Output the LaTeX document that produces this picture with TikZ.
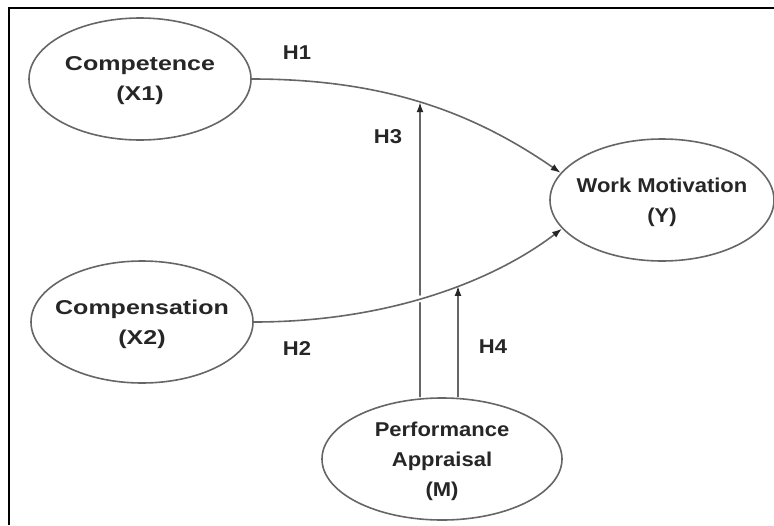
\documentclass[tikz,border=0pt]{standalone}
\usepackage{fontspec}
\setmainfont{Liberation Sans}[FakeStretch=1.1]
\usetikzlibrary{arrows.meta,intersections,shapes.geometric}

\tikzset{
    construct/.style={draw=black!60,line width=1.6pt,ellipse,inner xsep=-12pt,inner ysep=-5pt,
        minimum width=222pt,minimum height=122pt,align=center,text depth=-12pt,
        text=black!85,font=\fontsize{20}{30}\selectfont\bfseries},
    wide text/.style={font=\fontsize{20}{30}\selectfont\bfseries\addfontfeatures{FakeStretch=1.25}},
    link/.style={draw=black!60,line width=1.6pt},
    path arrow/.style={link,-{Latex[length=10pt,width=7pt,black!85]}},
    hyp/.style={text=black!85,font=\fontsize{20}{24}\selectfont\bfseries}
}

\begin{document}
\begin{tikzpicture}[x=1pt,y=-1pt]
    \useasboundingbox (0,0) rectangle (774,525);
    \draw [line width=1.5pt] (9,525) -- (9,8) -- (774,8);
    % constructs
    \node [construct,wide text] (X1) at (140,79) {Competence\\(X1)};
    \node [construct,wide text] (X2) at (142,322) {Compensation\\(X2)};
    \node [construct,minimum width=224pt] (Y) at (662,200) {Work Motivation\\(Y)};
    \node [construct,minimum width=240pt] (M) at (442,459) {Performance\\Appraisal\\(M)};
    % direct paths
    \path [name path=X1--Y] (X1.east) .. controls (380,79) and (470,110) .. (Y.165);
    \path [name path=X2--Y] (X2.east) .. controls (390,322) and (495,280) .. (Y.196);
    % moderating paths
    \coordinate (m3) at (420,40);
    \coordinate (m4) at (458,40);
    \path [name path=M--H3] (M.north -| m3) -- (m3);
    \path [name path=M--H4] (M.north -| m4) -- (m4);
    \path [name intersections={of=M--H3 and X1--Y,by=H3end}];
    \path [name intersections={of=M--H4 and X2--Y,by=H4end}];
    \path [name intersections={of=M--H3 and X2--Y,by=cross}];
    \draw [path arrow] (M.north -| m3) -- (H3end);
    \draw [path arrow] (M.north -| m4) -- (H4end);
    \fill [white] (cross) circle (3.5);
    \draw [path arrow] (X1.east) .. controls (380,79) and (470,110) .. (Y.165);
    \draw [path arrow] (X2.east) .. controls (390,322) and (495,280) .. (Y.196);
    % hypotheses
    \node [hyp] (H1) at (297,53) {H1};
    \node [hyp] (H2) at (297,349) {H2};
    \node [hyp] (H3) at (388,137) {H3};
    \node [hyp] (H4) at (493,347) {H4};
\end{tikzpicture}
\end{document}
